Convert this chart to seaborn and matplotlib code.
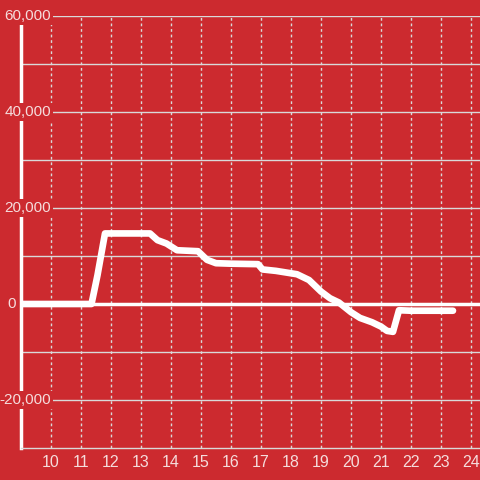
import pandas as pd
import matplotlib
matplotlib.use("Agg")
import matplotlib.pyplot as plt
import matplotlib.transforms as mtransforms
import seaborn as sns

# hour of day vs. running value
hours = [9.0, 11.35, 11.55, 11.8, 13.3, 13.55, 13.85, 14.2, 14.9, 15.2,
         15.5, 16.0, 16.9, 17.05, 17.5, 18.0, 18.2, 18.6, 19.0, 19.3,
         19.6, 20.0, 20.3, 20.7, 21.0, 21.2, 21.4, 21.6, 22.0, 23.4]
values = [0, 0, 6000, 14700, 14700, 13300, 12600, 11200, 11000, 9200,
          8500, 8400, 8300, 7200, 6900, 6400, 6200, 5000, 2600, 1200,
          300, -1700, -2900, -3800, -4700, -5600, -5800, -1300, -1400, -1400]

x_ticks = list(range(10, 25))
y_grid = list(range(-30000, 60001, 10000))
y_labels = [-20000, 0, 20000, 40000, 60000]

bg = "#cc2a2f"
text_col = "#f5dcdc"
grid_col = "#d9d9d9"

sns.set_style("white")
plt.rcParams["font.family"] = ["Liberation Sans", "DejaVu Sans"]

df = pd.DataFrame({"hour": hours, "value": values})

fig = plt.figure(figsize=(4.8, 4.8), dpi=100, facecolor=bg)
ax = fig.add_axes([21 / 480, 32 / 480, 459 / 480, 432 / 480], facecolor=bg)

ax.set_xlim(9, 24.3)
ax.set_ylim(-30000, 60000)

# grid
for y in y_grid:
    if y == 0:
        ax.axhline(y, color="white", lw=2.5, zorder=2)
    elif y > -30000:
        ax.axhline(y, color=grid_col, lw=1, zorder=1)
for x in x_ticks:
    ax.axvline(x, color=grid_col, lw=1, ls=(0, (2, 2)), zorder=1)

sns.lineplot(data=df, x="hour", y="value", ax=ax, color="white",
             linewidth=4.8, zorder=3, legend=False)

for s in ["top", "right"]:
    ax.spines[s].set_visible(False)
ax.spines["left"].set_color("white")
ax.spines["left"].set_linewidth(2.5)
ax.spines["left"].set_zorder(2)
ax.spines["bottom"].set_color(grid_col)
ax.spines["bottom"].set_linewidth(1)

ax.set_xticks(x_ticks)
ax.set_xticklabels([str(t) for t in x_ticks])
ax.tick_params(axis="x", length=0, pad=5, labelsize=11.5, labelcolor=text_col)
ax.set_yticks([])
ax.set_xlabel("")
ax.set_ylabel("")

# y labels sit over the spine with a red box behind them
trans = mtransforms.blended_transform_factory(fig.transFigure, ax.transData)
for v in y_labels:
    if v == 0:
        ax.text(16 / 480, v, "0", transform=trans, ha="right", va="center",
                fontsize=11, color=text_col, zorder=4, clip_on=False)
        continue
    ax.text(51 / 480, v, f"{v:,}", transform=trans, ha="right", va="center",
            fontsize=11, color=text_col, zorder=4, clip_on=False,
            bbox=dict(boxstyle="square,pad=0.1", fc=bg, ec="none"))

fig.savefig("out.png", dpi=100, facecolor=bg)
